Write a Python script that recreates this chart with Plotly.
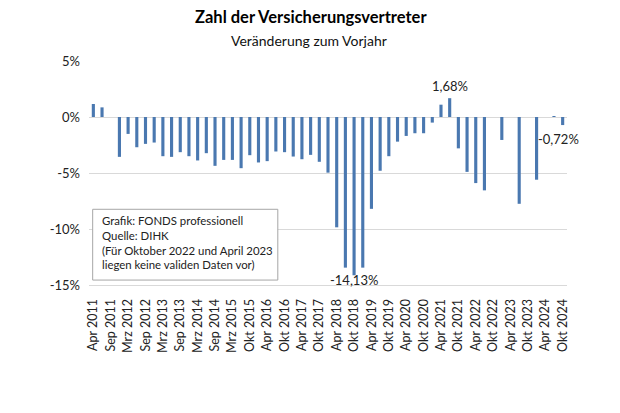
import plotly.graph_objects as go

# Categories (half-year labels, with intermediate periods between them)
categories = [
    "Apr 2011", "Jul 2011", "Sep 2011", "Dez 2011", "Mrz 2012", "Jun 2012", "Sep 2012", "Dez 2012",
    "Mrz 2013", "Jun 2013", "Sep 2013", "Dez 2013", "Mrz 2014", "Jun 2014", "Sep 2014", "Dez 2014",
    "Mrz 2015", "Jul 2015", "Okt 2015", "Jan 2016", "Apr 2016", "Jul 2016", "Okt 2016", "Jan 2017",
    "Apr 2017", "Jul 2017", "Okt 2017", "Jan 2018", "Apr 2018", "Jul 2018", "Okt 2018", "Jan 2019",
    "Apr 2019", "Jul 2019", "Okt 2019", "Jan 2020", "Apr 2020", "Jul 2020", "Okt 2020", "Jan 2021",
    "Apr 2021", "Jul 2021", "Okt 2021", "Jan 2022", "Apr 2022", "Jul 2022", "Okt 2022", "Jan 2023",
    "Apr 2023", "Jul 2023", "Okt 2023", "Jan 2024", "Apr 2024", "Jul 2024", "Okt 2024",
]

# Change vs previous year, in percent (None = no valid data)
changes = [
    1.16, 0.86, None, -3.56, -1.51, -2.70, -2.40, -2.28,
    -3.50, -3.56, -3.14, -3.50, -3.88, -3.23, -4.36, -3.83,
    -3.83, -4.57, -3.41, -4.06, -3.94, -3.08, -3.14, -3.53,
    -3.77, -3.38, -4.00, -4.97, -9.85, -13.45, -14.13, -13.45,
    -8.20, -4.80, -3.50, -2.20, -1.69, -1.45, -1.45, -0.50,
    1.10, 1.68, -2.80, -4.90, -5.90, -6.55, None, -2.05,
    None, -7.75, None, -5.60, None, 0.05, -0.72,
]

tick_labels = [
    "Apr 2011", "Sep 2011", "Mrz 2012", "Sep 2012", "Mrz 2013", "Sep 2013", "Mrz 2014",
    "Sep 2014", "Mrz 2015", "Okt 2015", "Apr 2016", "Okt 2016", "Apr 2017", "Okt 2017",
    "Apr 2018", "Okt 2018", "Apr 2019", "Okt 2019", "Apr 2020", "Okt 2020", "Apr 2021",
    "Okt 2021", "Apr 2022", "Okt 2022", "Apr 2023", "Okt 2023", "Apr 2024", "Okt 2024",
]

y_tick_values = [-15, -10, -5, 0, 5]
y_tick_labels = ["-15%", "-10%", "-5%", "0%", "5%"]

value_labels = [("Okt 2018", -14.13, "-14,13%"), ("Jul 2021", 1.68, "1,68%"), ("Okt 2024", -0.72, "-0,72%")]

FONT = "Lato, 'Open Sans', sans-serif"
BAR = "#4a78b0"
GRID = "#d9d9d9"

fig = go.Figure()
fig.add_trace(go.Bar(x=categories, y=changes, marker=dict(color=BAR, line=dict(width=0)),
                     hoverinfo="x+y"))

label_shifts = {"Okt 2018": (0, 5), "Jul 2021": (0, 2), "Okt 2024": (-4, -4)}
annotations = []
for cat, val, txt in value_labels:
    dx, dy = label_shifts[cat]
    annotations.append(dict(x=cat, y=val, text=txt, showarrow=False,
                            yanchor="bottom" if val > 0 else "top",
                            xshift=dx, yshift=dy, font=dict(size=13, color="#222", family=FONT)))

# Source note box
annotations.append(dict(
    xref="paper", yref="paper", x=0.022, y=0.325, xanchor="left", yanchor="top",
    align="left", showarrow=False,
    text="Grafik: FONDS professionell<br>Quelle: DIHK<br>(Für Oktober 2022 und April 2023<br>liegen keine validen Daten vor)",
    font=dict(size=11.4, color="#222", family=FONT)))

# Title and subtitle
annotations.append(dict(xref="paper", yref="paper", x=0.464, y=1, yanchor="middle", yshift=44,
                        showarrow=False, text="<b>Zahl der Versicherungsvertreter</b>",
                        font=dict(size=16.5, color="#000", family=FONT)))
annotations.append(dict(xref="paper", yref="paper", x=0.46, y=1, yanchor="middle", yshift=21,
                        showarrow=False, text="Veränderung zum Vorjahr",
                        font=dict(size=14, color="#111", family=FONT)))

shapes = [dict(type="rect", xref="paper", yref="paper", x0=0.0077, x1=0.395, y0=0.022, y1=0.338,
               line=dict(color="#a6a6a6", width=1), fillcolor="white", layer="above")]

# The page body has an 8px margin; keep the figure inside the window
fig.update_layout(
    template="none",
    width=604, height=397,
    margin=dict(l=81, r=45, t=53, b=120, pad=0),
    paper_bgcolor="white", plot_bgcolor="white",
    showlegend=False,
    bargap=0.64,
    font=dict(family=FONT, color="#222"),
    xaxis=dict(type="category", categoryorder="array", categoryarray=categories,
               range=[-0.5, len(categories) - 0.5], automargin=False,
               tickmode="array", tickvals=tick_labels, ticktext=tick_labels,
               tickangle=-90, tickfont=dict(size=12.5, color="#222"),
               showgrid=False, showline=True, linecolor=GRID, linewidth=1,
               zeroline=False, ticks="", ticklabelstandoff=8),
    yaxis=dict(range=[-15, 5], tickmode="array", tickvals=y_tick_values, ticktext=y_tick_labels,
               automargin=False,
               tickfont=dict(size=13, color="#222"), showgrid=True, gridcolor=GRID,
               gridwidth=1, zeroline=False, showline=False, ticks="", ticklabelstandoff=8),
    annotations=annotations,
    shapes=shapes,
)

fig.write_html("out.html")
